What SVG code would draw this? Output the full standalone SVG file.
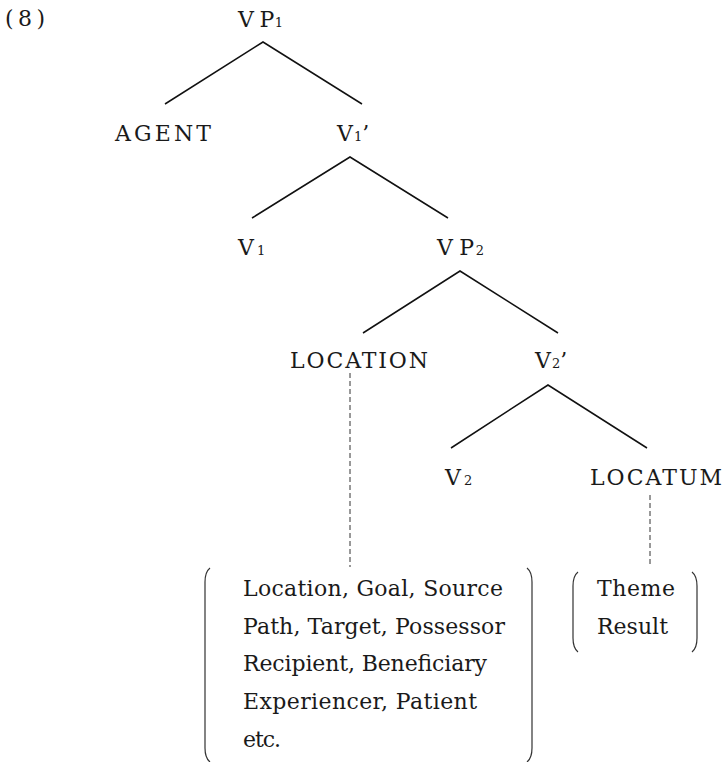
<svg xmlns="http://www.w3.org/2000/svg" width="726" height="762" viewBox="0 0 726 762">
<style>
text{font-family:"DejaVu Serif","Liberation Serif",serif;fill:#1a1a1a;}
.n{font-size:22px;}
.s{font-size:13px;}
.b{font-size:22px;}
.e{stroke:#111;stroke-width:1.5;fill:none;}
.d{stroke:#333;stroke-width:1;stroke-dasharray:5 3;fill:none;}
.br{stroke:#333;stroke-width:1.2;fill:none;}
</style>
<rect width="726" height="762" fill="#fff"/>
<text id="label" class="n" x="5" y="26" textLength="40">( 8 )</text>
<g id="VP1"><text class="n" x="238" y="27" textLength="45">V P<tspan class="s" dx="1">1</tspan></text></g>
<g id="AGENT"><text class="n" x="115" y="141" textLength="96">AGENT</text></g>
<g id="V1bar"><text class="n" x="337" y="141">V<tspan class="s" dx="1">1</tspan><tspan dx="0">’</tspan></text></g>
<g id="V1"><text class="n" x="238" y="255">V<tspan class="s" dx="3">1</tspan></text></g>
<g id="VP2"><text class="n" x="437" y="255" textLength="47">V P<tspan class="s" dx="2">2</tspan></text></g>
<g id="LOCATION"><text class="n" x="290" y="368" textLength="138">LOCATION</text></g>
<g id="V2bar"><text class="n" x="535" y="368">V<tspan class="s" dx="1">2</tspan><tspan dx="0">’</tspan></text></g>
<g id="V2"><text class="n" x="445" y="485">V<tspan class="s" dx="3">2</tspan></text></g>
<g id="LOCATUM"><text class="n" x="590" y="485" textLength="132">LOCATUM</text></g>
<g id="location-roles">
<path class="br" d="M210 568 Q205 572 205 582 L205 748 Q205 758 210 762"/>
<path class="br" d="M527 568 Q532 572 532 582 L532 748 Q532 758 527 762"/>
<text class="b" x="243" y="596" textLength="260">Location, Goal, Source</text>
<text class="b" x="243" y="634" textLength="262">Path, Target, Possessor</text>
<text class="b" x="243" y="671" textLength="244">Recipient, Beneficiary</text>
<text class="b" x="243" y="709" textLength="234">Experiencer, Patient</text>
<text class="b" x="243" y="747" textLength="38">etc.</text>
</g>
<g id="locatum-roles">
<path class="br" d="M578 572 Q573 576 573 586 L573 638 Q573 648 578 652"/>
<path class="br" d="M692 572 Q697 576 697 586 L697 638 Q697 648 692 652"/>
<text class="b" x="597" y="596" textLength="78">Theme</text>
<text class="b" x="597" y="634" textLength="71">Result</text>
</g>
<g id="connectors">
<path class="e" d="M165 104 L263 42 L362 104"/>
<path class="e" d="M252 218 L350 157 L448 218"/>
<path class="e" d="M363 333 L460 271 L558 333"/>
<path class="e" d="M451 448 L548 385 L647 448"/>
<path class="d" d="M350 373 L350 567"/>
<path class="d" d="M650 495 L650 567"/>
</g>
</svg>
